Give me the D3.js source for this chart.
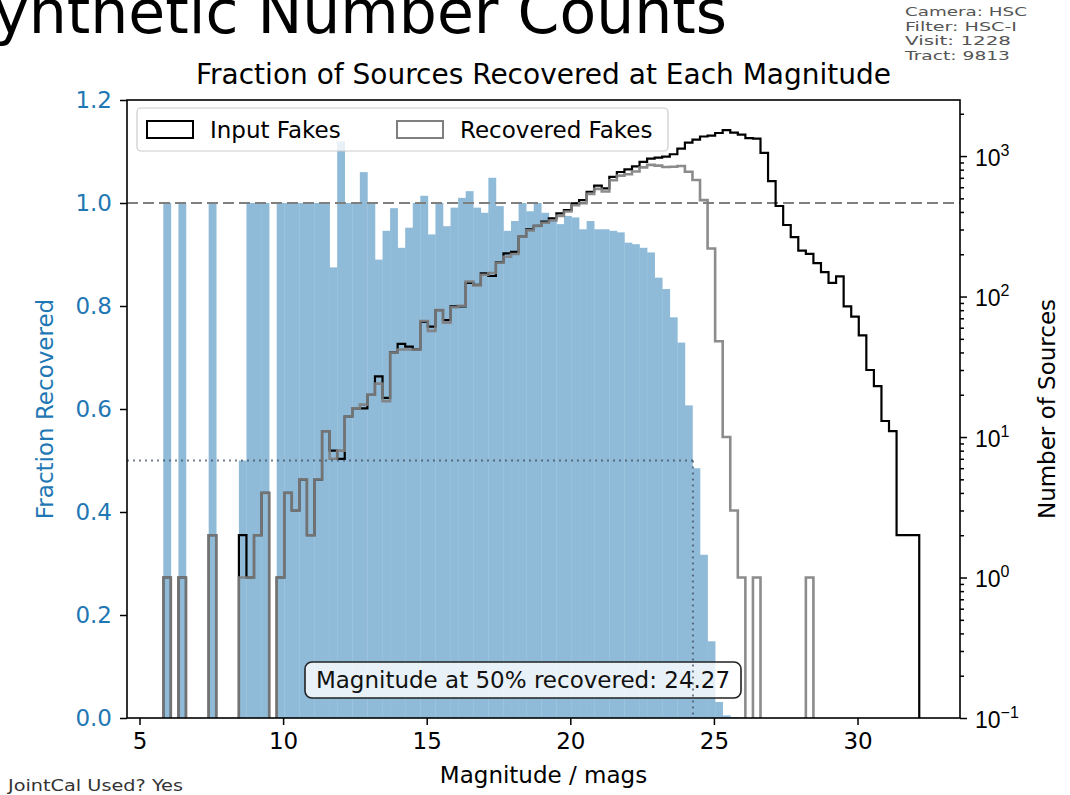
<!DOCTYPE html>
<html>
<head>
<meta charset="utf-8">
<script src="https://cdn.jsdelivr.net/npm/d3@7"></script>
<style>
  body { margin: 0; background: #fff; }
  svg { display: block; font-family: "DejaVu Sans", sans-serif; }
</style>
</head>
<body>
<svg id="chart" width="1070" height="795"></svg>
<script>
// histogram bins (magnitudes), 100 equal bins between the brightest and faintest input fake
const magMin = 5.829, magMax = 32.149, nBins = 100;

// number of input fakes per bin
const inputCounts = [
  1, 0, 1, 0, 0, 0, 2, 0, 0, 0,
  2, 1, 2, 4, 0, 1, 4, 3, 5, 2,
  5, 11, 8, 7, 14, 16, 16, 20, 27, 19,
  40, 46, 44, 42, 66, 61, 80, 68, 85, 85,
  125, 121, 146, 140, 175, 203, 208, 267, 301, 318,
  341, 360, 391, 413, 460, 486, 557, 615, 589, 710,
  770, 805, 845, 910, 960, 975, 990, 1030, 1129, 1247,
  1310, 1378, 1400, 1459, 1531, 1469, 1422, 1343, 1332, 1054,
  664, 441, 323, 265, 212, 201, 173, 149, 125, 139,
  85, 72, 53, 30, 23, 13, 11, 2, 2, 2
];

// number of recovered fakes per bin
const recoveredCounts = [
  1, 0, 1, 0, 0, 0, 2, 0, 0, 0,
  1, 1, 2, 4, 0, 1, 4, 3, 5, 2,
  5, 11, 7, 8, 14, 16, 17, 20, 24, 18,
  40, 42, 42, 42, 67, 57, 80, 65, 84, 86,
  128, 120, 143, 147, 174, 192, 201, 267, 296, 318,
  335, 348, 375, 403, 447, 461, 538, 584, 559, 672,
  726, 743, 777, 831, 865, 855, 835, 840, 850, 773,
  675, 486, 220, 48, 10, 3, 1, 0, 1, 0,
  0, 0, 0, 0, 0, 1, 0, 0, 0, 0,
  0, 0, 0, 0, 0, 0, 0, 0, 0, 0
];

// fraction recovered per bin
const fractionRecovered = [
  1.0, 0, 1.0, 0, 0, 0, 1.0, 0, 0, 0,
  0.5, 1.0, 1.0, 1.0, 0, 1.0, 1.0, 1.0, 1.0, 1.0,
  1.0, 1.0, 0.875, 1.12, 1.0, 1.0, 1.06, 1.0, 0.89, 0.946,
  0.99, 0.913, 0.952, 1.0, 1.014, 0.939, 1.0, 0.955, 0.991, 1.01,
  1.023, 0.991, 0.981, 1.049, 0.994, 0.946, 0.965, 1.0, 0.984, 1.0,
  0.981, 0.968, 0.959, 0.975, 0.972, 0.949, 0.965, 0.949, 0.949, 0.946,
  0.943, 0.923, 0.92, 0.913, 0.904, 0.855, 0.833, 0.778, 0.729, 0.607,
  0.485, 0.317, 0.149, 0.031, 0.005, 0.002, 0.001, 0, 0.001, 0,
  0, 0, 0, 0, 0, 0, 0, 0, 0, 0,
  0, 0, 0, 0, 0, 0, 0, 0, 0, 0
];

const mag50 = 24.27;
const magTicks = [5, 10, 15, 20, 25, 30];
const fracTicks = [0, 0.2, 0.4, 0.6, 0.8, 1.0, 1.2];
const countTicks = [0.1, 1, 10, 100, 1000];
const countTickExp = ["\u22121", "0", "1", "2", "3"];
const infoLines = ["Camera: HSC", "Filter: HSC-I", "Visit: 1228", "Tract: 9813"];
const infoWidths = [122, 112, 106, 105];

const plot = { left: 127, right: 960, top: 100, bottom: 718 };
const blue = "#1f77b4";

const svg = d3.select("#chart");

const x = d3.scaleLinear().domain([4.565, 33.568]).range([plot.left, plot.right]);
const yFrac = d3.scaleLinear().domain([0, 1.2]).range([plot.bottom, plot.top]);
const yCount = d3.scaleLog().domain([0.1, Math.pow(10, 3.399)]).range([plot.bottom, plot.top]);

const edges = d3.range(nBins + 1).map((i) => magMin + i * (magMax - magMin) / nBins);

svg.append("defs").append("clipPath").attr("id", "plotClip")
  .append("rect")
  .attr("x", plot.left).attr("y", plot.top)
  .attr("width", plot.right - plot.left).attr("height", plot.bottom - plot.top);

// big figure title, cut off by the top of the page
svg.append("text")
  .attr("x", 727).attr("y", 33)
  .attr("text-anchor", "end")
  .style("font-size", "60px")
  .attr("fill", "#000")
  .text("Synthetic Number Counts");

// info block top right
svg.append("g").selectAll("text")
  .data(infoLines)
  .enter()
  .append("text")
  .attr("x", 905)
  .attr("y", (d, i) => 16 + i * 14.6)
  .attr("textLength", (d, i) => infoWidths[i])
  .attr("lengthAdjust", "spacingAndGlyphs")
  .style("font-size", "12.5px")
  .attr("fill", "#555")
  .text((d) => d);

svg.append("text")
  .attr("x", 8).attr("y", 791)
  .attr("textLength", 175)
  .attr("lengthAdjust", "spacingAndGlyphs")
  .style("font-size", "16px")
  .attr("fill", "#333")
  .text("JointCal Used? Yes");

// title
svg.append("text")
  .attr("x", (plot.left + plot.right) / 2).attr("y", 84)
  .attr("text-anchor", "middle")
  .style("font-size", "28px")
  .text("Fraction of Sources Recovered at Each Magnitude");

const clipped = svg.append("g").attr("clip-path", "url(#plotClip)");

// fraction bars
clipped.append("g").selectAll("rect")
  .data(fractionRecovered.map((f, i) => ({ f, lo: edges[i], hi: edges[i + 1] })).filter((d) => d.f > 0))
  .enter()
  .append("rect")
  .attr("x", (d) => x(d.lo))
  .attr("width", (d) => x(d.hi) - x(d.lo) + 0.3)
  .attr("y", (d) => yFrac(d.f))
  .attr("height", (d) => yFrac(0) - yFrac(d.f))
  .attr("fill", "#8fbbd9");

// 100% line
clipped.append("line")
  .attr("x1", plot.left).attr("x2", plot.right)
  .attr("y1", yFrac(1)).attr("y2", yFrac(1))
  .attr("stroke", "#7f7f7f").attr("stroke-width", 2)
  .attr("stroke-dasharray", "11,5");

const stepPoints = (counts) => {
  const pts = [[edges[0], 0]];
  counts.forEach((c, i) => {
    pts.push([edges[i], c]);
    pts.push([edges[i + 1], c]);
  });
  pts.push([edges[nBins], 0]);
  return pts;
};

const stepLine = d3.line()
  .x((d) => x(d[0]))
  .y((d) => d[1] > 0 ? yCount(d[1]) : plot.bottom + 3);

clipped.append("path")
  .attr("d", stepLine(stepPoints(inputCounts)))
  .attr("fill", "none").attr("stroke", "#000").attr("stroke-width", 2.2);

clipped.append("path")
  .attr("d", stepLine(stepPoints(recoveredCounts)))
  .attr("fill", "none").attr("stroke", "#7f7f7f").attr("stroke-width", 2.6)
  .attr("stroke-opacity", 0.9);

// annotation box
const note = svg.append("g");
note.append("rect")
  .attr("x", 305).attr("y", 662).attr("width", 436).attr("height", 36)
  .attr("rx", 7)
  .attr("fill", "#fff").attr("fill-opacity", 0.8)
  .attr("stroke", "#222").attr("stroke-width", 1.6);
note.append("text")
  .attr("x", 523).attr("y", 688)
  .attr("text-anchor", "middle")
  .style("font-size", "23px")
  .attr("fill", "#111")
  .text(`Magnitude at 50% recovered: ${mag50.toFixed(2)}`);

// 50% guide lines
const guide = svg.append("g")
  .attr("stroke", "#3a4a5a").attr("stroke-opacity", 0.7)
  .attr("stroke-width", 2).attr("stroke-dasharray", "2,4");
guide.append("line")
  .attr("x1", plot.left).attr("x2", x(mag50))
  .attr("y1", yFrac(0.5)).attr("y2", yFrac(0.5));
guide.append("line")
  .attr("x1", x(mag50)).attr("x2", x(mag50))
  .attr("y1", yFrac(0.5)).attr("y2", plot.bottom);

// legend
const legend = svg.append("g");
legend.append("rect")
  .attr("x", 137).attr("y", 108).attr("width", 531).attr("height", 43)
  .attr("rx", 4)
  .attr("fill", "#fff").attr("fill-opacity", 0.8)
  .attr("stroke", "#cccccc").attr("stroke-width", 1.2);
const legendItems = [
  { label: "Input Fakes", color: "#000", x: 147 },
  { label: "Recovered Fakes", color: "#7f7f7f", x: 397 },
];
legendItems.forEach((d) => {
  legend.append("rect")
    .attr("x", d.x).attr("y", 121).attr("width", 46).attr("height", 17)
    .attr("fill", "none").attr("stroke", d.color).attr("stroke-width", 2);
  legend.append("text")
    .attr("x", d.x + 63).attr("y", 138)
    .style("font-size", "23px")
    .text(d.label);
});

// frame
svg.append("rect")
  .attr("x", plot.left).attr("y", plot.top)
  .attr("width", plot.right - plot.left).attr("height", plot.bottom - plot.top)
  .attr("fill", "none").attr("stroke", "#000").attr("stroke-width", 1.6);

// bottom axis
const xAxis = svg.append("g")
  .attr("transform", `translate(0,${plot.bottom})`)
  .call(d3.axisBottom(x).tickValues(magTicks).tickSize(7).tickPadding(8).tickFormat(d3.format("d")));

// left axis
const yAxisL = svg.append("g")
  .attr("transform", `translate(${plot.left},0)`)
  .call(d3.axisLeft(yFrac).tickValues(fracTicks).tickSize(7).tickPadding(8).tickFormat(d3.format(".1f")));
yAxisL.selectAll(".tick text").attr("fill", blue);

// right axis: minor ticks
const minor = [];
for (let e = -1; e < 4; e++) {
  for (let m = 2; m < 10; m++) {
    const v = m * Math.pow(10, e);
    if (v < yCount.domain()[1]) minor.push(v);
  }
}
svg.append("g")
  .attr("transform", `translate(${plot.right},0)`)
  .call(d3.axisRight(yCount).tickValues(minor).tickSize(4).tickFormat(() => ""));

const yAxisR = svg.append("g")
  .attr("transform", `translate(${plot.right},0)`)
  .call(d3.axisRight(yCount).tickValues(countTicks).tickSize(7).tickPadding(8).tickFormat(() => ""));

yAxisR.selectAll(".tick").each(function (d, i) {
  const t = d3.select(this).append("text")
    .attr("x", 15).attr("y", 9)
    .attr("fill", "#000")
    .attr("text-anchor", "start")
    .style("font-size", "23px");
  t.append("tspan").text("10");
  t.append("tspan").attr("dy", -10).style("font-size", "16px").text(countTickExp[i]);
});

[xAxis, yAxisL].forEach((g) => g.selectAll(".tick text").style("font-size", "23px").style("font-family", "DejaVu Sans"));
svg.selectAll(".domain").remove();
svg.selectAll(".tick line").attr("stroke", "#000").attr("stroke-width", 1.5);

// axis labels
svg.append("text")
  .attr("x", (plot.left + plot.right) / 2).attr("y", 783)
  .attr("text-anchor", "middle")
  .style("font-size", "23px")
  .text("Magnitude / mags");

svg.append("text")
  .attr("transform", `translate(53,${(plot.top + plot.bottom) / 2}) rotate(-90)`)
  .attr("text-anchor", "middle")
  .style("font-size", "23px")
  .attr("fill", blue)
  .text("Fraction Recovered");

svg.append("text")
  .attr("transform", `translate(1055,${(plot.top + plot.bottom) / 2}) rotate(-90)`)
  .attr("text-anchor", "middle")
  .style("font-size", "23px")
  .text("Number of Sources");
</script>
</body>
</html>
